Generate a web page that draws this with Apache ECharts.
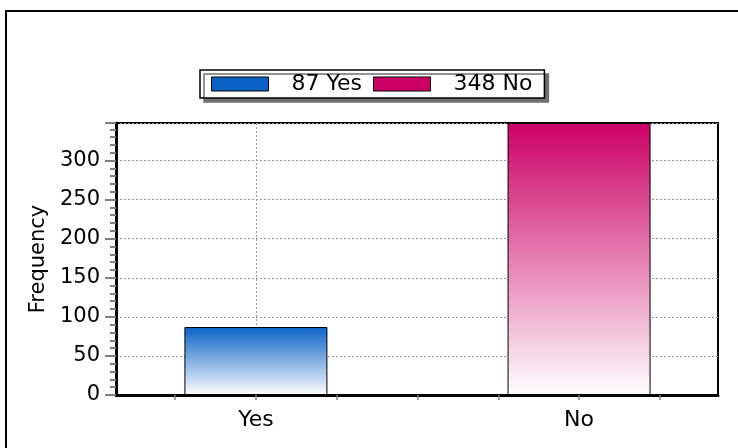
<!DOCTYPE html>
<html>
<head>
<meta charset="utf-8">
<script src="https://cdn.jsdelivr.net/npm/echarts@6/dist/echarts.min.js"></script>
<style>
  html, body { margin: 0; padding: 0; background: #fff; }
  #main { width: 738px; height: 448px; }
</style>
</head>
<body>
<div id="main"></div>
<script>
// data
var categories = ["Yes", "No"];
var counts = [87, 348];
var catPositions = [1, 2];
var topColors = ["#0a62c6", "#cc0066"];
var xTickValues = [0.75, 1, 1.25, 1.5, 1.75, 2, 2.25];
var yTickStep = 50;

var font = "DejaVu Sans, Verdana, sans-serif";

var chart = echarts.init(document.getElementById("main"));

var series = categories.map(function (c, i) {
  return {
    name: c,
    type: "bar",
    data: [[catPositions[i], counts[i]]],
    barWidth: 143,
    barGap: "-100%",
    itemStyle: {
      color: new echarts.graphic.LinearGradient(0, 0, 0, 1, [
        { offset: 0, color: topColors[i] },
        { offset: 1, color: "#ffffff" }
      ]),
      borderColor: "#000",
      borderWidth: 1
    },
    z: 3
  };
});

var option = {
  animation: false,
  backgroundColor: "#fff",
  textStyle: { fontFamily: font },
  graphic: [
    {
      type: "polyline",
      shape: { points: [[6, 448], [6, 11], [738, 11]] },
      style: { stroke: "#000", lineWidth: 2, fill: null },
      silent: true
    }
  ],
  legend: {
    left: 200,
    top: 70,
    orient: "horizontal",
    padding: [3, 12, 3, 11],
    itemWidth: 57,
    itemHeight: 14,
    itemGap: 11,
    backgroundColor: "#fff",
    borderColor: "#000",
    borderWidth: 1.5,
    borderRadius: 0,
    shadowColor: "#707070",
    shadowBlur: 0,
    shadowOffsetX: 4,
    shadowOffsetY: 4,
    selectedMode: false,
    data: categories.map(function (c, i) {
      return {
        name: c,
        icon: "rect",
        itemStyle: { color: topColors[i], borderColor: "#000", borderWidth: 1 }
      };
    }),
    formatter: function (name) {
      return counts[categories.indexOf(name)] + " " + name;
    },
    textStyle: { fontFamily: font, fontSize: 22, color: "#000", padding: [0, 0, 0, 18] }
  },
  grid: {
    left: 116,
    right: 20,
    top: 123,
    bottom: 53,
    show: true,
    borderColor: "#000",
    borderWidth: 2,
    backgroundColor: "#fff"
  },
  xAxis: [
    {
      type: "value",
      min: 0.567,
      max: 2.43,
      axisLine: { show: true, onZero: false, lineStyle: { color: "#000", width: 3 } },
      axisTick: {
        show: true,
        length: 5,
        customValues: xTickValues,
        lineStyle: { color: "#808080", width: 1.5 }
      },
      axisLabel: {
        customValues: catPositions,
        margin: 14,
        fontSize: 22,
        color: "#000",
        fontFamily: font,
        formatter: function (v) {
          var i = catPositions.indexOf(Math.round(v));
          return i >= 0 ? categories[i] : "";
        }
      },
      splitLine: { show: false }
    },
    {
      type: "value",
      min: 0.567,
      max: 2.43,
      position: "bottom",
      axisLine: { show: false },
      axisTick: { show: false, customValues: catPositions },
      axisLabel: { show: false, customValues: catPositions },
      splitLine: {
        show: true,
        lineStyle: { color: "#999", type: [2, 2], width: 1 }
      }
    }
  ],
  yAxis: {
    type: "value",
    min: 0,
    max: "dataMax",
    interval: yTickStep,
    name: "Frequency",
    nameLocation: "middle",
    nameGap: 61,
    nameTextStyle: { fontSize: 21, color: "#000", fontFamily: font },
    axisLine: { show: true, lineStyle: { color: "#000", width: 3 } },
    axisTick: { show: true, length: 11, lineStyle: { color: "#808080", width: 2 } },
    minorTick: { show: true, splitNumber: 5, length: 6, lineStyle: { color: "#808080", width: 2 } },
    axisLabel: {
      margin: 16,
      fontSize: 21,
      color: "#000",
      fontFamily: font,
      formatter: function (v) {
        return v % yTickStep === 0 ? String(v) : "";
      }
    },
    splitLine: {
      show: true,
      lineStyle: { color: "#999", type: [2, 2], width: 1 }
    }
  },
  series: series
};

chart.setOption(option);
</script>
</body>
</html>
